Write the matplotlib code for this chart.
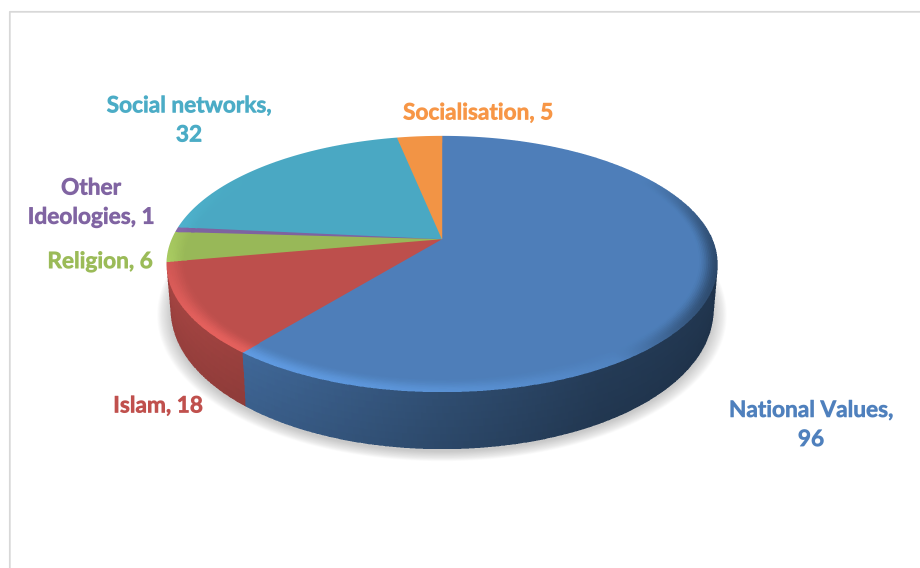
import io
import numpy as np
import matplotlib
matplotlib.use("Agg")
import matplotlib.pyplot as plt
import matplotlib.patheffects as pe
from matplotlib.colors import to_rgb

# Valores do gráfico, no sentido horário a partir do topo
categories = ["National Values", "Islam", "Religion", "Other Ideologies", "Social networks", "Socialisation"]
values = [96, 18, 6, 1, 32, 5]
slice_colors = ["#4F81BD", "#C0504D", "#9BBB59", "#8064A2", "#4BACC6", "#F79646"]
label_texts = ["National Values,\n96", "Islam, 18", "Religion, 6", "Other\nIdeologies, 1", "Social networks,\n32", "Socialisation, 5"]
label_pos = [(811, 425), (158, 406), (100, 262), (91, 203), (189, 120.5), (478, 113)]

# Perspectiva do disco
cx, cy = 442, 239
a, b, k = 270, 123, 0.195
rim = 0.07
SS = 3  # superamostragem


def project(theta, r):
    x = r * np.sin(theta)
    y = r * np.cos(theta)
    w = 1 + k * y
    return cx + a * x / w, cy - b * y / w


def base_point(theta, s=1.0):
    # ponto na parede lateral, s=0 na borda de cima e s=1 embaixo
    px, py = project(theta, 1.0)
    depth = 43 - 14 * np.cos(theta)
    return cx + (px - cx) * (1 - 0.015 * s), py + s * depth


def light(theta):
    return np.cos(theta - np.radians(228))


def mesh(ax, X, Y, rgb, z):
    ax.pcolormesh(X, Y, np.clip(rgb, 0, 1), shading="flat", edgecolors="face",
                  linewidth=0.15, zorder=z)


fig = plt.figure(figsize=(9.2, 5.68), dpi=100)
ax = fig.add_axes([0, 0, 1, 1])
ax.set_xlim(0, 920)
ax.set_ylim(568, 0)
ax.axis("off")

# moldura do gráfico
ax.plot([920, 9.5, 9.5], [11.5, 11.5, 568], color="#d9d9d9", lw=1.3, zorder=1)

# sombra difusa debaixo da pizza
t = np.linspace(0, 2 * np.pi, 361)
bx, by = base_point(t)
for s in np.linspace(1.05, 1.0, 16):
    ax.fill(cx + (bx - cx) * s, 262 + (by - 262) * s + 3, color="#808080", alpha=0.028, lw=0, zorder=2)

edges = np.radians(np.concatenate([[0], np.cumsum(values)]) / sum(values) * 360)

for i, col in enumerate(slice_colors):
    c = np.array(to_rgb(col))
    th = np.linspace(edges[i], edges[i + 1], max(int(np.degrees(edges[i + 1] - edges[i]) * 3), 4))

    # parede lateral; fatias seguintes ficam atrás das anteriores
    s = np.linspace(0, 1, 9)
    T, S = np.meshgrid(th, s)
    X, Y = base_point(T, S)
    tc = 0.5 * (T[:-1, :-1] + T[:-1, 1:])
    sc = 0.5 * (S[:-1, :-1] + S[1:, :-1])
    xc, _ = base_point(tc, sc)
    f = np.interp(xc, [167, 250, 442, 600, 717], [0.86, 0.80, 0.60, 0.46, 0.42])
    f = f * (1 - 0.08 * sc)
    mesh(ax, X, Y, f[..., None] * c, 3 - i * 0.01)

    # face de cima
    px, py = project(th, 1.0)
    ax.fill(np.r_[cx, px], np.r_[cy, py], color=c * 0.985, lw=0.3, zorder=4)

    # chanfro da borda
    r = np.linspace(1 - rim, 1, 12)
    T, R = np.meshgrid(th, r)
    X, Y = project(T, R)
    tc = 0.5 * (T[:-1, :-1] + T[:-1, 1:])
    rc = 0.5 * (R[:-1, :-1] + R[1:, :-1])
    u = (rc - (1 - rim)) / rim
    w = u * u * (3 - 2 * u)
    li = light(tc)
    front = np.clip(0.55 - np.cos(tc), 0, 1.2) / 1.2
    hi = np.clip(li, 0, 1)[..., None] * (w * front)[..., None]
    lo = np.clip(-li + 0.15, 0, 1)[..., None] * (w * front)[..., None]
    rgb = c * 0.985 * (1 + 0.2 * hi) + 0.01 * hi
    rgb = rgb * (1 - 0.9 * lo)
    mesh(ax, X, Y, rgb, 5)

# rótulos
for txt, pos, col in zip(label_texts, label_pos, slice_colors):
    ax.text(pos[0], pos[1], txt, color=col, ha="center", va="center", fontsize=16.3,
            fontfamily="Lato", fontweight="bold", linespacing=1.48, zorder=6,
            path_effects=[pe.withStroke(linewidth=0.5, foreground=col)])

# salva em resolução maior e reduz, para suavizar as bordas da malha
buf = io.BytesIO()
fig.savefig(buf, format="png", dpi=100 * SS, facecolor="white")
buf.seek(0)
img = plt.imread(buf)[..., :3]
h, w_ = img.shape[0] // SS, img.shape[1] // SS
small = img[:h * SS, :w_ * SS].reshape(h, SS, w_, SS, 3).mean(axis=(1, 3))
plt.imsave("out.png", small)
